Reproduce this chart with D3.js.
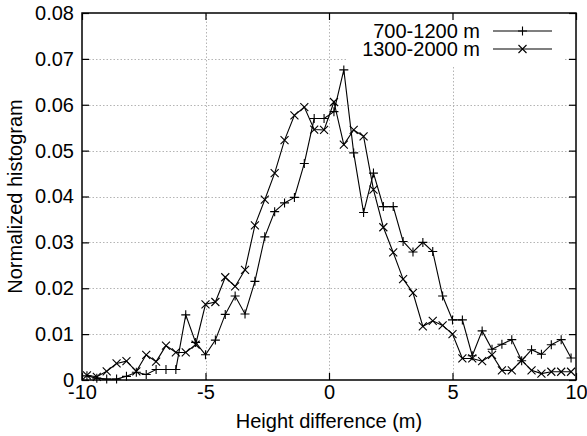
<!DOCTYPE html>
<html>
<head>
<meta charset="utf-8">
<script src="https://cdn.jsdelivr.net/npm/d3@7"></script>
<style>
  body { margin: 0; background: #fff; }
  text { font-family: "Liberation Sans", Arial, Helvetica, sans-serif; fill: #000; }
</style>
</head>
<body>
<script>
/************************************ Data ***********************************/
// bin centres of the height difference (m)
var heightDiff = [-9.8, -9.4, -9.0, -8.6, -8.2, -7.8, -7.4, -7.0, -6.6, -6.2,
                  -5.8, -5.4, -5.0, -4.6, -4.2, -3.8, -3.4, -3.0, -2.6, -2.2,
                  -1.8, -1.4, -1.0, -0.6, -0.2, 0.2, 0.6, 1.0, 1.4, 1.8,
                  2.2, 2.6, 3.0, 3.4, 3.8, 4.2, 4.6, 5.0, 5.4, 5.8,
                  6.2, 6.6, 7.0, 7.4, 7.8, 8.2, 8.6, 9.0, 9.4, 9.8];

// 700-1200 m series ("+")
var histLow = [0.0009, 0.0004, 0.0002, 0.0002, 0.0008, 0.0017, 0.0012, 0.0023, 0.0023, 0.0023,
               0.0142, 0.0082, 0.0055, 0.0087, 0.0143, 0.0183, 0.0144, 0.0215, 0.0312, 0.0367,
               0.0386, 0.0398, 0.0472, 0.0570, 0.0570, 0.0585, 0.0676, 0.0495, 0.0365, 0.0451,
               0.0378, 0.0378, 0.0302, 0.0279, 0.0300, 0.0280, 0.0183, 0.0131, 0.0131, 0.0053,
               0.0107, 0.0067, 0.0078, 0.0088, 0.0042, 0.0066, 0.0056, 0.0077, 0.0088, 0.0048];

// 1300-2000 m series ("x")
var histHigh = [0.0010, 0.0007, 0.0019, 0.0036, 0.0041, 0.0019, 0.0055, 0.0040, 0.0075, 0.0060,
                0.0060, 0.0077, 0.0165, 0.0170, 0.0224, 0.0204, 0.0240, 0.0337, 0.0393, 0.0451,
                0.0523, 0.0577, 0.0595, 0.0546, 0.0545, 0.0606, 0.0513, 0.0545, 0.0531, 0.0415,
                0.0333, 0.0278, 0.0220, 0.0190, 0.0117, 0.0129, 0.0119, 0.0100, 0.0047, 0.0047,
                0.0041, 0.0055, 0.0021, 0.0021, 0.0043, 0.0021, 0.0014, 0.0018, 0.0018, 0.0018];

var seriesNames = ["700-1200 m", "1300-2000 m"];

var xTicks = [-10, -5, 0, 5, 10];
var xTickLabels = ["-10", "-5", "0", "5", "10"];
var yTicks = [0, 0.01, 0.02, 0.03, 0.04, 0.05, 0.06, 0.07, 0.08];
var yTickLabels = ["0", "0.01", "0.02", "0.03", "0.04", "0.05", "0.06", "0.07", "0.08"];

/******************************* Chart **************************/
var width = 587, height = 436;
var margin = {top: 13, right: 11, bottom: 56, left: 82};

var svg = d3.select("body").append("svg")
    .attr("width", width)
    .attr("height", height);

var x = d3.scaleLinear().domain([-10, 10]).range([margin.left, width - margin.right]);
var y = d3.scaleLinear().domain([0, 0.08]).range([height - margin.bottom, margin.top]);

var fontSize = 20;

// grid
var grid = svg.append("g").attr("class", "grid")
    .attr("stroke", "#b4b4b4")
    .attr("stroke-width", 1)
    .attr("stroke-dasharray", "1.5,2");

grid.selectAll(".gx").data(xTicks.slice(1, -1)).enter().append("line")
    .attr("x1", function(d) { return Math.round(x(d)) + 0.5; })
    .attr("x2", function(d) { return Math.round(x(d)) + 0.5; })
    .attr("y1", y(0)).attr("y2", y(0.08));

grid.selectAll(".gy").data(yTicks.slice(1, -1)).enter().append("line")
    .attr("x1", x(-10)).attr("x2", x(10))
    .attr("y1", function(d) { return Math.round(y(d)) + 0.5; })
    .attr("y2", function(d) { return Math.round(y(d)) + 0.5; });

// legend area hides the grid
svg.append("rect")
    .attr("x", 346).attr("y", y(0.08) + 1)
    .attr("width", 217).attr("height", 52)
    .attr("fill", "#fff");

// axes (ticks point inward, mirrored on top and right)
var tickLen = 7;

svg.append("g")
    .attr("transform", "translate(0," + y(0) + ")")
    .call(d3.axisBottom(x).tickValues(xTicks)
        .tickFormat(function(d, i) { return xTickLabels[i]; })
        .tickSize(-tickLen).tickPadding(5));

svg.append("g")
    .attr("transform", "translate(0," + y(0.08) + ")")
    .call(d3.axisTop(x).tickValues(xTicks).tickFormat("").tickSize(-tickLen));

svg.append("g")
    .attr("transform", "translate(" + x(-10) + ",0)")
    .call(d3.axisLeft(y).tickValues(yTicks)
        .tickFormat(function(d, i) { return yTickLabels[i]; })
        .tickSize(-tickLen).tickPadding(8));

svg.append("g")
    .attr("transform", "translate(" + x(10) + ",0)")
    .call(d3.axisRight(y).tickValues(yTicks).tickFormat("").tickSize(-tickLen));

svg.selectAll(".domain").remove();
svg.selectAll(".tick line").attr("stroke", "#000").attr("stroke-width", 1.2);
svg.selectAll(".tick text")
    .attr("font-size", fontSize)
    .attr("font-family", "Liberation Sans, Arial, sans-serif");

// frame
svg.append("rect")
    .attr("x", x(-10)).attr("y", y(0.08))
    .attr("width", x(10) - x(-10)).attr("height", y(0) - y(0.08))
    .attr("fill", "none")
    .attr("stroke", "#000")
    .attr("stroke-width", 1.5);

// axis titles
svg.append("text")
    .attr("x", (x(-10) + x(10)) / 2)
    .attr("y", 428)
    .attr("text-anchor", "middle")
    .attr("font-size", fontSize)
    .text("Height difference (m)");

svg.append("text")
    .attr("transform", "translate(22," + ((y(0) + y(0.08)) / 2) + ") rotate(-90)")
    .attr("text-anchor", "middle")
    .attr("font-size", fontSize)
    .text("Normalized histogram");

/******************************* Series **************************/
var plusPath = "M-4.5,0H4.5M0,-4.5V4.5";
var crossPath = "M-4,-4L4,4M-4,4L4,-4";
var markers = [plusPath, crossPath];
var seriesData = [histLow, histHigh];

var line = d3.line()
    .x(function(d) { return x(d[0]); })
    .y(function(d) { return y(d[1]); });

seriesData.forEach(function(vals, s) {
    var pts = heightDiff.map(function(h, i) { return [h, vals[i]]; });
    var g = svg.append("g").attr("class", "series" + s);
    g.append("path")
        .datum(pts)
        .attr("d", line)
        .attr("fill", "none")
        .attr("stroke", "#000")
        .attr("stroke-width", 1.1);
    g.selectAll("path.mk")
        .data(pts)
        .enter().append("path")
        .attr("class", "mk")
        .attr("d", markers[s])
        .attr("transform", function(d) { return "translate(" + x(d[0]) + "," + y(d[1]) + ")"; })
        .attr("stroke", "#000")
        .attr("stroke-width", 1.1)
        .attr("fill", "none");
});

/******************************* Legend **************************/
var legend = svg.append("g").attr("class", "legend");
var legendRows = [31, 49];

seriesNames.forEach(function(name, s) {
    legend.append("text")
        .attr("x", 480)
        .attr("y", legendRows[s])
        .attr("dy", "0.35em")
        .attr("text-anchor", "end")
        .attr("font-size", fontSize)
        .text(name);
    legend.append("line")
        .attr("x1", 493).attr("x2", 552)
        .attr("y1", legendRows[s]).attr("y2", legendRows[s])
        .attr("stroke", "#000")
        .attr("stroke-width", 1.1);
    legend.append("path")
        .attr("d", markers[s])
        .attr("transform", "translate(522.5," + legendRows[s] + ")")
        .attr("stroke", "#000")
        .attr("stroke-width", 1.1)
        .attr("fill", "none");
});
</script>
</body>
</html>
